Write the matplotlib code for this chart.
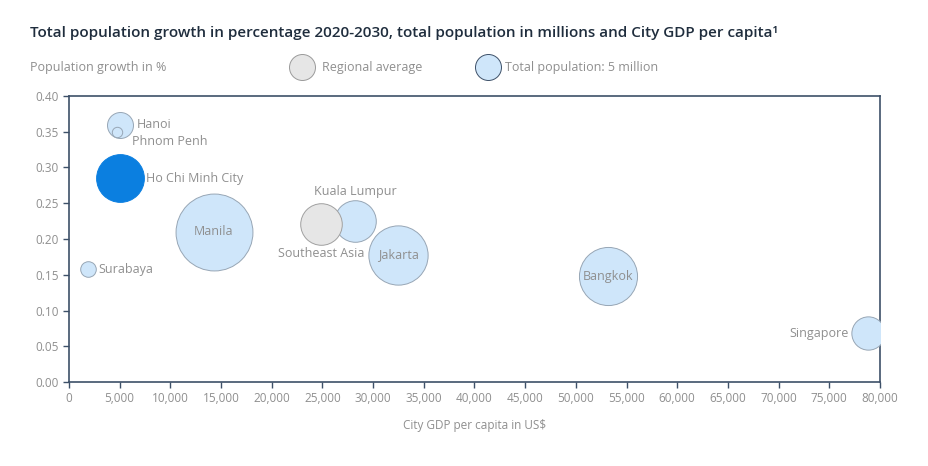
import numpy as np
import matplotlib
matplotlib.use("Agg")
import matplotlib.pyplot as plt

plt.rcParams['font.family'] = ['Open Sans', 'DejaVu Sans']

# data
cities = ["Hanoi", "Phnom Penh", "Ho Chi Minh City", "Manila", "Kuala Lumpur",
          "Southeast Asia", "Jakarta", "Surabaya", "Bangkok", "Singapore"]
gdp = [5000, 4700, 5000, 14300, 28200, 24900, 32500, 1900, 53200, 78800]
growth = [0.36, 0.35, 0.285, 0.21, 0.225, 0.221, 0.178, 0.158, 0.148, 0.0685]
population = [5.0, 0.8, 16.9, 43.8, 12.8, 12.8, 26.0, 1.8, 25.0, 8.2]
kind = ["city", "city", "focus", "city", "city", "region", "city", "city", "city", "city"]

xticks = np.arange(0, 80001, 5000)
yticks = np.arange(0, 0.401, 0.05)

# label placement (pixel offsets from bubble centre, alignment)
label_pos = {
    "Hanoi": (17, 0, "left"),
    "Phnom Penh": (15, -10, "left"),
    "Ho Chi Minh City": (26, 0, "left"),
    "Manila": (0, 0, "center"),
    "Kuala Lumpur": (0, 30, "center"),
    "Southeast Asia": (0, -30, "center"),
    "Jakarta": (0, 0, "center"),
    "Surabaya": (10, 0, "left"),
    "Bangkok": (0, 0, "center"),
    "Singapore": (-19, 0, "right"),
}

LIGHT = "#cfe6fa"
DARK = "#0b7fe0"
GREY = "#e6e6e6"
EDGE = "#97a6b5"
SPINE = "#3d5068"
TXT = "#8f8f8f"
SCALE = 70  # marker area (pt^2) per million people

fig = plt.figure(figsize=(9.29, 4.66), dpi=100)
ax = fig.add_axes([69/929, 84/466, 811/929, 286/466])

fills = {"city": LIGHT, "focus": DARK, "region": GREY}
edges = {"city": EDGE, "focus": DARK, "region": "#a0a0a0"}
for i, c in enumerate(cities):
    ax.scatter(gdp[i], growth[i], s=population[i]*SCALE, c=fills[kind[i]],
               edgecolors=edges[kind[i]], linewidths=0.7, zorder=3+i)
    dx, dy, ha = label_pos[c]
    ax.annotate(c, (gdp[i], growth[i]), xytext=(dx, dy), textcoords="offset pixels",
                ha=ha, va="center", fontsize=9, color=TXT, zorder=20)

ax.set_xlim(0, 80000)
ax.set_ylim(0, 0.40)
ax.set_xticks(xticks)
ax.set_xticklabels([f"{v:,}" for v in xticks])
ax.set_yticks(yticks)
ax.set_yticklabels([f"{v:.2f}" for v in yticks])
ax.tick_params(colors=SPINE, labelcolor=TXT, labelsize=8.5, length=4, width=1)
for sp in ax.spines.values():
    sp.set_color(SPINE)
    sp.set_linewidth(1.2)
ax.set_xlabel("City GDP per capita in US$", fontsize=8.5, color=TXT, labelpad=10)

fig.text(30/929, 1-33/466, "Total population growth in percentage 2020-2030, total population in millions and City GDP per capita\u00b9",
         fontsize=11, fontweight="semibold", color="#1f2d3d", va="center")
fig.text(30/929, 1-67/466, "Population growth in %", fontsize=9, color=TXT, va="center")

# legend bubbles
fig.text(322/929, 1-67/466, "Regional average", fontsize=9, color=TXT, va="center")
fig.text(505/929, 1-67/466, "Total population: 5 million", fontsize=9, color=TXT, va="center")
lax = fig.add_axes([0, 0, 1, 1], facecolor="none")
lax.set_xlim(0, 929)
lax.set_ylim(466, 0)
lax.axis("off")
lax.scatter([302], [67], s=5*SCALE, c=GREY, edgecolors="#9a9a9a", linewidths=0.7)
lax.scatter([488], [67], s=5*SCALE, c=LIGHT, edgecolors=SPINE, linewidths=0.7)

fig.savefig("out.png", dpi=100)
